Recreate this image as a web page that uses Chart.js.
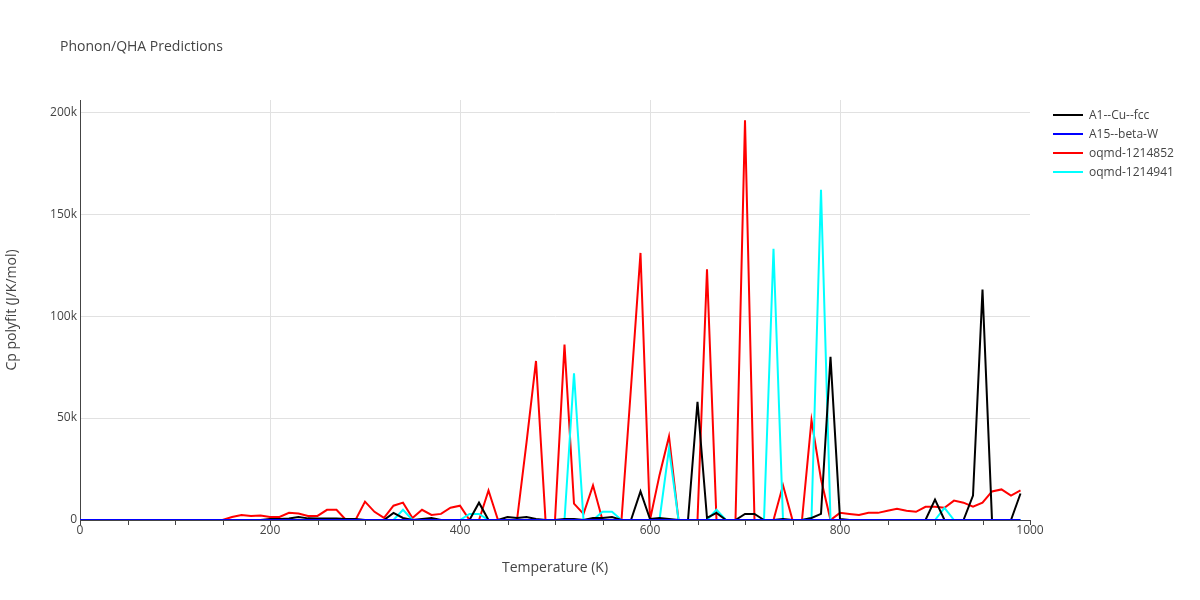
<!DOCTYPE html>
<html><head><meta charset="utf-8">
<script src="https://cdn.jsdelivr.net/npm/chart.js@4"></script>
<style>
body{margin:0;background:#fff;font-family:"Open Sans",sans-serif;}
#wrap{position:relative;width:1200px;height:600px;}
#title{position:absolute;left:60px;top:36px;font-size:14px;color:#444;}
#legend{position:absolute;left:1053px;top:105px;font-size:12px;color:#444;}
.li{height:19px;display:flex;align-items:center;}
.sw{width:30px;height:2px;margin-right:6px;}
</style></head><body>
<div id="wrap"><canvas id="c" width="1200" height="600"></canvas>
<div id="title">Phonon/QHA Predictions</div>
<div id="legend"></div></div>
<script>
const temps=[];for(let t=0;t<=990;t+=10)temps.push(t);
const yTicks=[0,50000,100000,150000,200000];
function fill(map){return temps.map(t=>map[t]!==undefined?map[t]:0);}
const cuFcc=fill({200:500,210:500,220:700,230:1500,240:800,250:700,260:700,270:700,280:500,290:500,330:3500,340:1000,360:500,370:1000,420:8500,450:1500,460:1000,470:1500,480:500,510:500,520:500,540:1000,550:1000,560:1500,590:14000,600:500,610:1000,620:500,650:58000,660:1000,670:3500,700:3000,710:3000,740:500,770:1000,780:3000,790:80000,800:500,900:10000,940:12000,950:113000,990:13000});
const betaW=fill({});
const oqmd852=fill({160:1500,170:2500,180:2000,190:2200,200:1500,210:1500,220:3500,230:3200,240:2000,250:2000,260:5000,270:5000,300:9000,310:4000,320:1000,330:7000,340:8500,350:1000,360:5000,370:2500,380:3000,390:6000,400:7000,430:14500,470:38000,480:78000,510:86000,520:8000,530:3000,540:17000,580:65000,590:131000,610:22000,620:41000,660:123000,700:196000,740:17000,770:49000,780:20000,800:3500,810:3000,820:2500,830:3500,840:3500,850:4500,860:5500,870:4500,880:4000,890:6500,900:6500,910:6000,920:9500,930:8500,940:6500,950:8500,960:14000,970:15000,980:12000,990:14500});
const oqmd941=fill({340:5000,410:3000,420:3000,520:72000,550:4000,560:4000,620:35000,670:5000,730:133000,770:1000,780:162000,910:6000});
const names=["A1--Cu--fcc","A15--beta-W","oqmd-1214852","oqmd-1214941"];
const colors=["#000000","#0000ff","#ff0000","#00ffff"];
const series=[cuFcc,betaW,oqmd852,oqmd941];
const order=[1,0,3,2];
const datasets=series.map((s,i)=>({label:names[i],data:s.map((v,j)=>({x:temps[j],y:v})),borderColor:colors[i],borderWidth:2,pointRadius:0,tension:0,fill:false,order:order[i]}));
document.getElementById('legend').innerHTML=names.map((n,i)=>`<div class="li"><div class="sw" style="background:${colors[i]}"></div>${n}</div>`).join('');
new Chart(document.getElementById('c'),{type:'line',data:{datasets},
options:{responsive:false,animation:false,
layout:{padding:{left:0,right:170,top:100,bottom:20}},
plugins:{legend:{display:false},tooltip:{enabled:false}},
scales:{
x:{type:'linear',min:0,max:1000,
 ticks:{stepSize:50,autoSkip:false,maxRotation:0,color:'#444',font:{size:12,family:'Open Sans'},callback:v=>v%200===0?v:''},
 grid:{color:c=>(c.tick&&c.tick.value%200===0&&c.tick.value>0&&c.tick.value<1000)?'#e1e1e1':'rgba(0,0,0,0)',drawTicks:false},
 border:{display:true,color:'#444',width:1},
 title:{display:true,text:'Temperature (K)',color:'#444',font:{size:14,family:'Open Sans'},padding:{top:10}},
 afterFit:s=>{s.height=60;}},
y:{min:0,max:206000,
 afterBuildTicks:s=>{s.ticks=yTicks.map(v=>({value:v}));},
 ticks:{color:'#444',font:{size:12,family:'Open Sans'},callback:v=>v===0?'0':(v/1000)+'k'},
 grid:{color:c=>c.tick&&c.tick.value>0?'#e1e1e1':'rgba(0,0,0,0)',drawTicks:false},
 border:{display:true,color:'#444',width:1},
 title:{display:true,text:'Cp polyfit (J/K/mol)',color:'#444',font:{size:14,family:'Open Sans'}},
 afterFit:s=>{s.width=80;}}
}},
plugins:[{id:'ticks',afterDraw(ch){const ctx=ch.ctx,x=ch.scales.x,a=ch.chartArea;ctx.save();ctx.strokeStyle='#444';ctx.lineWidth=1;for(let t=0;t<=1000;t+=50){const px=Math.round(x.getPixelForValue(t))+0.5;ctx.beginPath();ctx.moveTo(px,a.bottom);ctx.lineTo(px,a.bottom+5);ctx.stroke();}ctx.restore();}}]
});
</script></body></html>
